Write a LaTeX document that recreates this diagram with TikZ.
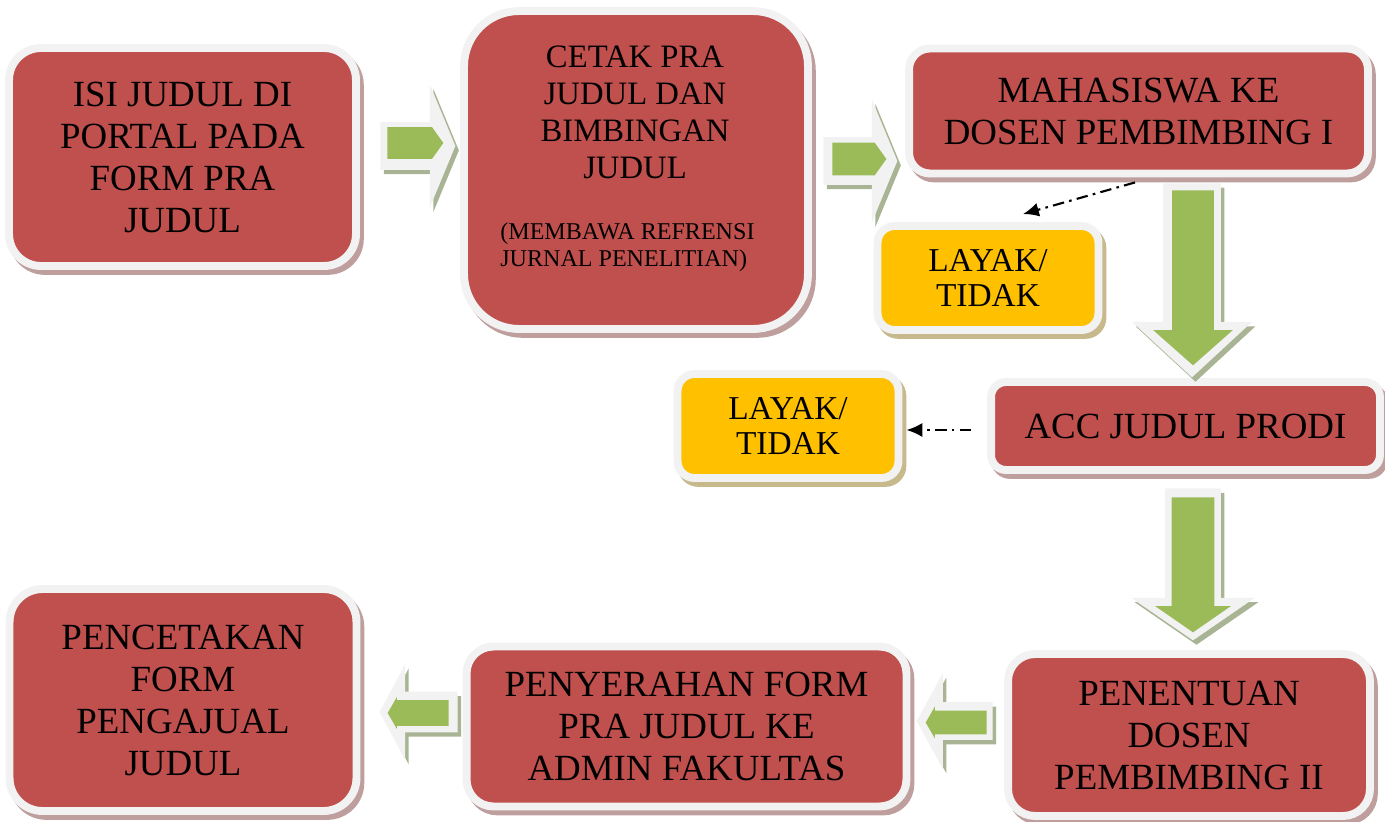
\documentclass[tikz,border=0pt]{standalone}
\usepackage{fontspec}
\setmainfont{Liberation Serif}
\usetikzlibrary{arrows.meta,calc,shapes.arrows,shadows}
\definecolor{flowred}{HTML}{C0504D}
\definecolor{flowredshade}{HTML}{BF9E9E}
\definecolor{flowyellow}{HTML}{FFC000}
\definecolor{flowyellowshade}{HTML}{C8B98C}
\definecolor{flowgreen}{HTML}{9BBB59}
\definecolor{flowgreenshade}{HTML}{A9B494}
\definecolor{flowrim}{HTML}{F2F2F2}

\begin{document}
\begin{tikzpicture}[
  x=0.02cm, y=-0.02cm,
  bigtxt/.style={font=\fontsize{21}{23.9}\selectfont},
  midtxt/.style={font=\fontsize{18.6}{21}\selectfont},
  box/.style={draw=flowrim, fill=flowred, line width=4.5pt, inner sep=0pt,
    align=center, text=black, bigtxt,
    drop shadow={fill=flowredshade, draw=flowredshade, line width=4.5pt,
      opacity=1, shadow xshift=2.2pt, shadow yshift=-2.8pt}},
  answer/.style={draw=flowrim, fill=flowyellow, line width=4.5pt, inner sep=0pt,
    align=center, text=black, font=\fontsize{19}{20}\selectfont,
    minimum width=4.42cm, minimum height=2.08cm, rounded corners=0.34cm,
    drop shadow={fill=flowyellowshade, draw=flowyellowshade, line width=4.5pt,
      opacity=1, shadow xshift=2.2pt, shadow yshift=-2.8pt}},
  fatrim/.style={single arrow, fill=flowrim, draw=none, minimum width=0pt, anchor=tail,
    drop shadow={fill=flowgreenshade, opacity=1, shadow xshift=2pt, shadow yshift=-2.5pt}},
  fatgreen/.style={single arrow, fill=flowgreen, draw=none, minimum width=0pt, anchor=tail},
  decide/.style={draw=black, line width=1.2pt, dash pattern=on 6.5pt off 3pt on 1.5pt off 3pt,
    -{Latex[length=9pt,width=8pt]}},
]
\useasboundingbox (0,0) rectangle (1385,821);

% ===== top row =====
\node[box, minimum width=6.94cm, minimum height=4.36cm, rounded corners=0.64cm] (isi)
  at (182.5,157) {ISI JUDUL DI\\PORTAL PADA\\FORM PRA\\JUDUL};
\node[box, minimum width=6.88cm, minimum height=6.36cm, rounded corners=1.1cm] (cetak)
  at (636,170) {};
\node[midtxt, align=center] (cetaktxt) at (635,112.5) {CETAK PRA\\JUDUL DAN\\BIMBINGAN\\JUDUL};
\node[font=\fontsize{13.7}{15.6}\selectfont, align=left, anchor=west, inner sep=0pt] (cetaknote)
  at (500,247) {(MEMBAWA REFRENSI\\JURNAL PENELITIAN)};
\node[box, minimum width=9.18cm, minimum height=2.5cm, rounded corners=0.42cm] (maha)
  at (1138.5,111) {MAHASISWA KE\\DOSEN PEMBIMBING I};

% ===== middle =====
\node[answer] (layak1) at (988,278) {LAYAK/\\TIDAK};
\node[answer] (layak2) at (788,426) {LAYAK/\\TIDAK};
\node[box, minimum width=7.78cm, minimum height=1.76cm, rounded corners=0.3cm] (acc)
  at (1185.5,426) {ACC JUDUL PRODI};

% ===== bottom row =====
\node[box, minimum width=7.24cm, minimum height=3.24cm, rounded corners=0.54cm] (tentu)
  at (1189,735) {PENENTUAN\\DOSEN\\PEMBIMBING II};
\node[box, minimum width=8.8cm, minimum height=3.2cm, rounded corners=0.54cm] (serah)
  at (686.5,726.5) {PENYERAHAN FORM\\PRA JUDUL KE\\ADMIN FAKULTAS};
\node[box, minimum width=6.94cm, minimum height=4.44cm, rounded corners=0.66cm] (cetakform)
  at (183,700) {PENCETAKAN\\FORM\\PENGAJUAL\\JUDUL};

% ===== fat arrows (placed by their tails) =====
\node[fatrim, inner sep=0.47cm, minimum height=1.5cm,
  single arrow head extend=0.75cm, single arrow tip angle=135] (r1rim) at (380,146) {};
\node[fatgreen, inner sep=0.31cm, minimum height=1.12cm,
  single arrow head extend=0pt, single arrow tip angle=109] (r1) at (387,143) {};
\node[fatrim, inner sep=0.47cm, minimum height=1.48cm,
  single arrow head extend=0.75cm, single arrow tip angle=135] (r2rim) at (823,161) {};
\node[fatgreen, inner sep=0.32cm, minimum height=1.08cm,
  single arrow head extend=0pt, single arrow tip angle=109] (r2) at (832,159) {};

\node[fatrim, shape border rotate=270, inner sep=0.57cm, minimum height=3.88cm,
  single arrow head extend=0.62cm, single arrow tip angle=94.5] (d1rim) at (1192,183) {};
\node[fatgreen, shape border rotate=270, inner sep=0.41cm, minimum height=3.5cm,
  single arrow head extend=0.38cm, single arrow tip angle=97] (d1) at (1193,190) {};
\node[fatrim, shape border rotate=270, inner sep=0.55cm, minimum height=3.04cm,
  single arrow head extend=0.68cm, single arrow tip angle=111] (d2rim) at (1193,488) {};
\node[fatgreen, shape border rotate=270, inner sep=0.42cm, minimum height=2.7cm,
  single arrow head extend=0.33cm, single arrow tip angle=110.6] (d2) at (1193,497) {};

\node[fatrim, shape border rotate=180, inner sep=0.37cm, minimum height=1.52cm,
  single arrow head extend=0.58cm, single arrow tip angle=122.7] (l1rim) at (993,721) {};
\node[fatgreen, shape border rotate=180, inner sep=0.23cm, minimum height=1.22cm,
  single arrow head extend=0.08cm, single arrow tip angle=120] (l1) at (987,722.5) {};
\node[fatrim, shape border rotate=180, inner sep=0.4cm, minimum height=1.56cm,
  single arrow head extend=0.55cm, single arrow tip angle=124] (l2rim) at (458,712) {};
\node[fatgreen, shape border rotate=180, inner sep=0.25cm, minimum height=1.22cm,
  single arrow head extend=0.06cm, single arrow tip angle=120] (l2) at (449,713) {};

% ===== feasibility checks =====
\draw[decide] ($(maha.south)+(-3.5,5)$) -- ($(layak1.north)+(35,-8)$);
\draw[decide] ($(acc.west)+(-16,4)$) -- ($(layak2.east)+(4,4)$);

\end{tikzpicture}
\end{document}
